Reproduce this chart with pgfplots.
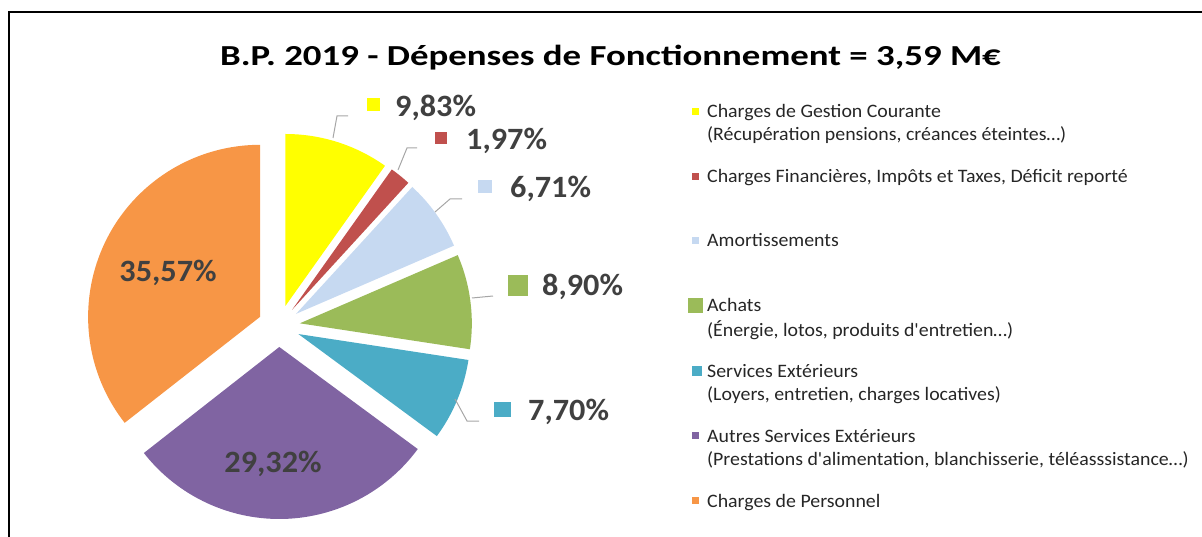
\documentclass[border=0pt]{standalone}
\usepackage{pgfplots}
\usepackage{pgfplotstable}
\pgfplotsset{compat=1.18}
\usepackage{fontspec}
\setmainfont{Carlito}
\definecolor{cYellow}{HTML}{FFFF00}
\definecolor{cRed}{HTML}{C0504D}
\definecolor{cLBlue}{HTML}{C6D9F1}
\definecolor{cGreen}{HTML}{9BBB59}
\definecolor{cTeal}{HTML}{4BACC6}
\definecolor{cPurple}{HTML}{8064A2}
\definecolor{cOrange}{HTML}{F79646}
\definecolor{txt}{HTML}{404040}
\definecolor{lead}{HTML}{A6A6A6}
\pgfplotstableread{
val col
9.83 cYellow
1.97 cRed
6.71 cLBlue
8.90 cGreen
7.70 cTeal
29.32 cPurple
35.57 cOrange
}\piedata
\newcommand{\legtxt}[1]{\scalebox{1.045}[1]{#1}}
\begin{document}
\begin{tikzpicture}
\begin{axis}[width=1202pt,height=537pt,scale only axis,
  xmin=0,xmax=1202,ymin=0,ymax=537,y dir=reverse,
  hide axis,clip=false]
\gdef\startang{90}
\foreach \i in {0,...,6}{
  \pgfplotstablegetelem{\i}{val}\of\piedata \let\sval\pgfplotsretval
  \pgfplotstablegetelem{\i}{col}\of\piedata \let\scol\pgfplotsretval
  \pgfmathsetmacro\endang{\startang-3.6*\sval}
  \pgfmathsetmacro\midang{(\startang+\endang)/2}
  \pgfmathsetmacro\apx{279+21*cos(\midang)}
  \pgfmathsetmacro\apy{326-21*sin(\midang)}
  \edef\slice{\noexpand\fill[\scol] (axis cs:\apx,\apy) -- ++(\startang:172pt) arc[start angle=\startang,end angle=\endang,radius=172pt] -- cycle;}
  \slice
  \xdef\startang{\endang}
}
% frame
\draw[line width=2.5pt] (axis cs:9,537) -- (axis cs:9,12) -- (axis cs:1202,12);
% title
\node[font=\bfseries\fontsize{29}{32}\selectfont,anchor=base,inner sep=0pt] at (axis cs:610.5,66) {\scalebox{1.27}[1]{B.P. 2019 - Dépenses de Fonctionnement = 3,59 M€}};
% leader lines
\draw[lead,line width=1pt] (axis cs:333,138) -- (axis cs:337,116) -- (axis cs:348,116);
\draw[lead,line width=1pt] (axis cs:398,170) -- (axis cs:407,148) -- (axis cs:417,148);
\draw[lead,line width=1pt] (axis cs:435,212) -- (axis cs:450,199) -- (axis cs:462,199);
\draw[lead,line width=1pt] (axis cs:472,298) -- (axis cs:493,296);
\draw[lead,line width=1pt] (axis cs:455,399) -- (axis cs:467,421) -- (axis cs:479,421);
% data label squares
\fill[cYellow] (axis cs:367,98) rectangle (axis cs:380,111);
\fill[cRed] (axis cs:435,132) rectangle (axis cs:447,144);
\fill[cLBlue] (axis cs:478,180) rectangle (axis cs:492,193);
\fill[cGreen] (axis cs:508,275) rectangle (axis cs:528,296);
\fill[cTeal] (axis cs:494,402) rectangle (axis cs:511,417);
% data labels
\begin{scope}[every node/.style={font=\bfseries\fontsize{31}{34}\selectfont,text=txt,inner sep=0pt}]
\node[anchor=base west] at (axis cs:395,117) {\scalebox{1.04}[1]{9,83\%}};
\node[anchor=base west] at (axis cs:466,150) {\scalebox{1.04}[1]{1,97\%}};
\node[anchor=base west] at (axis cs:510,198) {\scalebox{1.04}[1]{6,71\%}};
\node[anchor=base west] at (axis cs:542,296) {\scalebox{1.04}[1]{8,90\%}};
\node[anchor=base west] at (axis cs:528,420) {\scalebox{1.04}[1]{7,70\%}};
\node[anchor=base] at (axis cs:168,282) {\scalebox{1.04}[1]{35,57\%}};
\node[anchor=base] at (axis cs:273,472) {\scalebox{1.04}[1]{29,32\%}};
\end{scope}
% legend
\fill[cYellow] (axis cs:692,108) rectangle (axis cs:699,115);
\fill[cRed] (axis cs:692,173) rectangle (axis cs:699,180);
\fill[cLBlue] (axis cs:692,237) rectangle (axis cs:699,244);
\fill[cGreen] (axis cs:688,298) rectangle (axis cs:703,313);
\fill[cTeal] (axis cs:692,366) rectangle (axis cs:702,376);
\fill[cPurple] (axis cs:692,432) rectangle (axis cs:699,439);
\fill[cOrange] (axis cs:692,497) rectangle (axis cs:699,504);
\begin{scope}[every node/.style={font=\fontsize{19}{22}\selectfont,text=black!85,inner sep=0pt,anchor=base west}]
\node at (axis cs:707,118) {\legtxt{Charges de Gestion Courante}};
\node at (axis cs:707,141) {\legtxt{(Récupération pensions, créances éteintes…)}};
\node at (axis cs:707,183) {\legtxt{Charges Financières, Impôts et Taxes, Déficit reporté}};
\node at (axis cs:707,247) {\legtxt{Amortissements}};
\node at (axis cs:707,312) {\legtxt{Achats}};
\node at (axis cs:707,337) {\legtxt{(Énergie, lotos, produits d\textquotesingle entretien…)}};
\node at (axis cs:707,377) {\legtxt{Services Extérieurs}};
\node at (axis cs:707,400) {\legtxt{(Loyers, entretien, charges locatives)}};
\node at (axis cs:707,442) {\legtxt{Autres Services Extérieurs}};
\node at (axis cs:707,465) {\legtxt{(Prestations d\textquotesingle alimentation, blanchisserie, téléasssistance…)}};
\node at (axis cs:707,507) {\legtxt{Charges de Personnel}};
\end{scope}
\end{axis}
\pgfresetboundingbox
\path (0,0) rectangle (1202pt,537pt);
\end{tikzpicture}
\end{document}
